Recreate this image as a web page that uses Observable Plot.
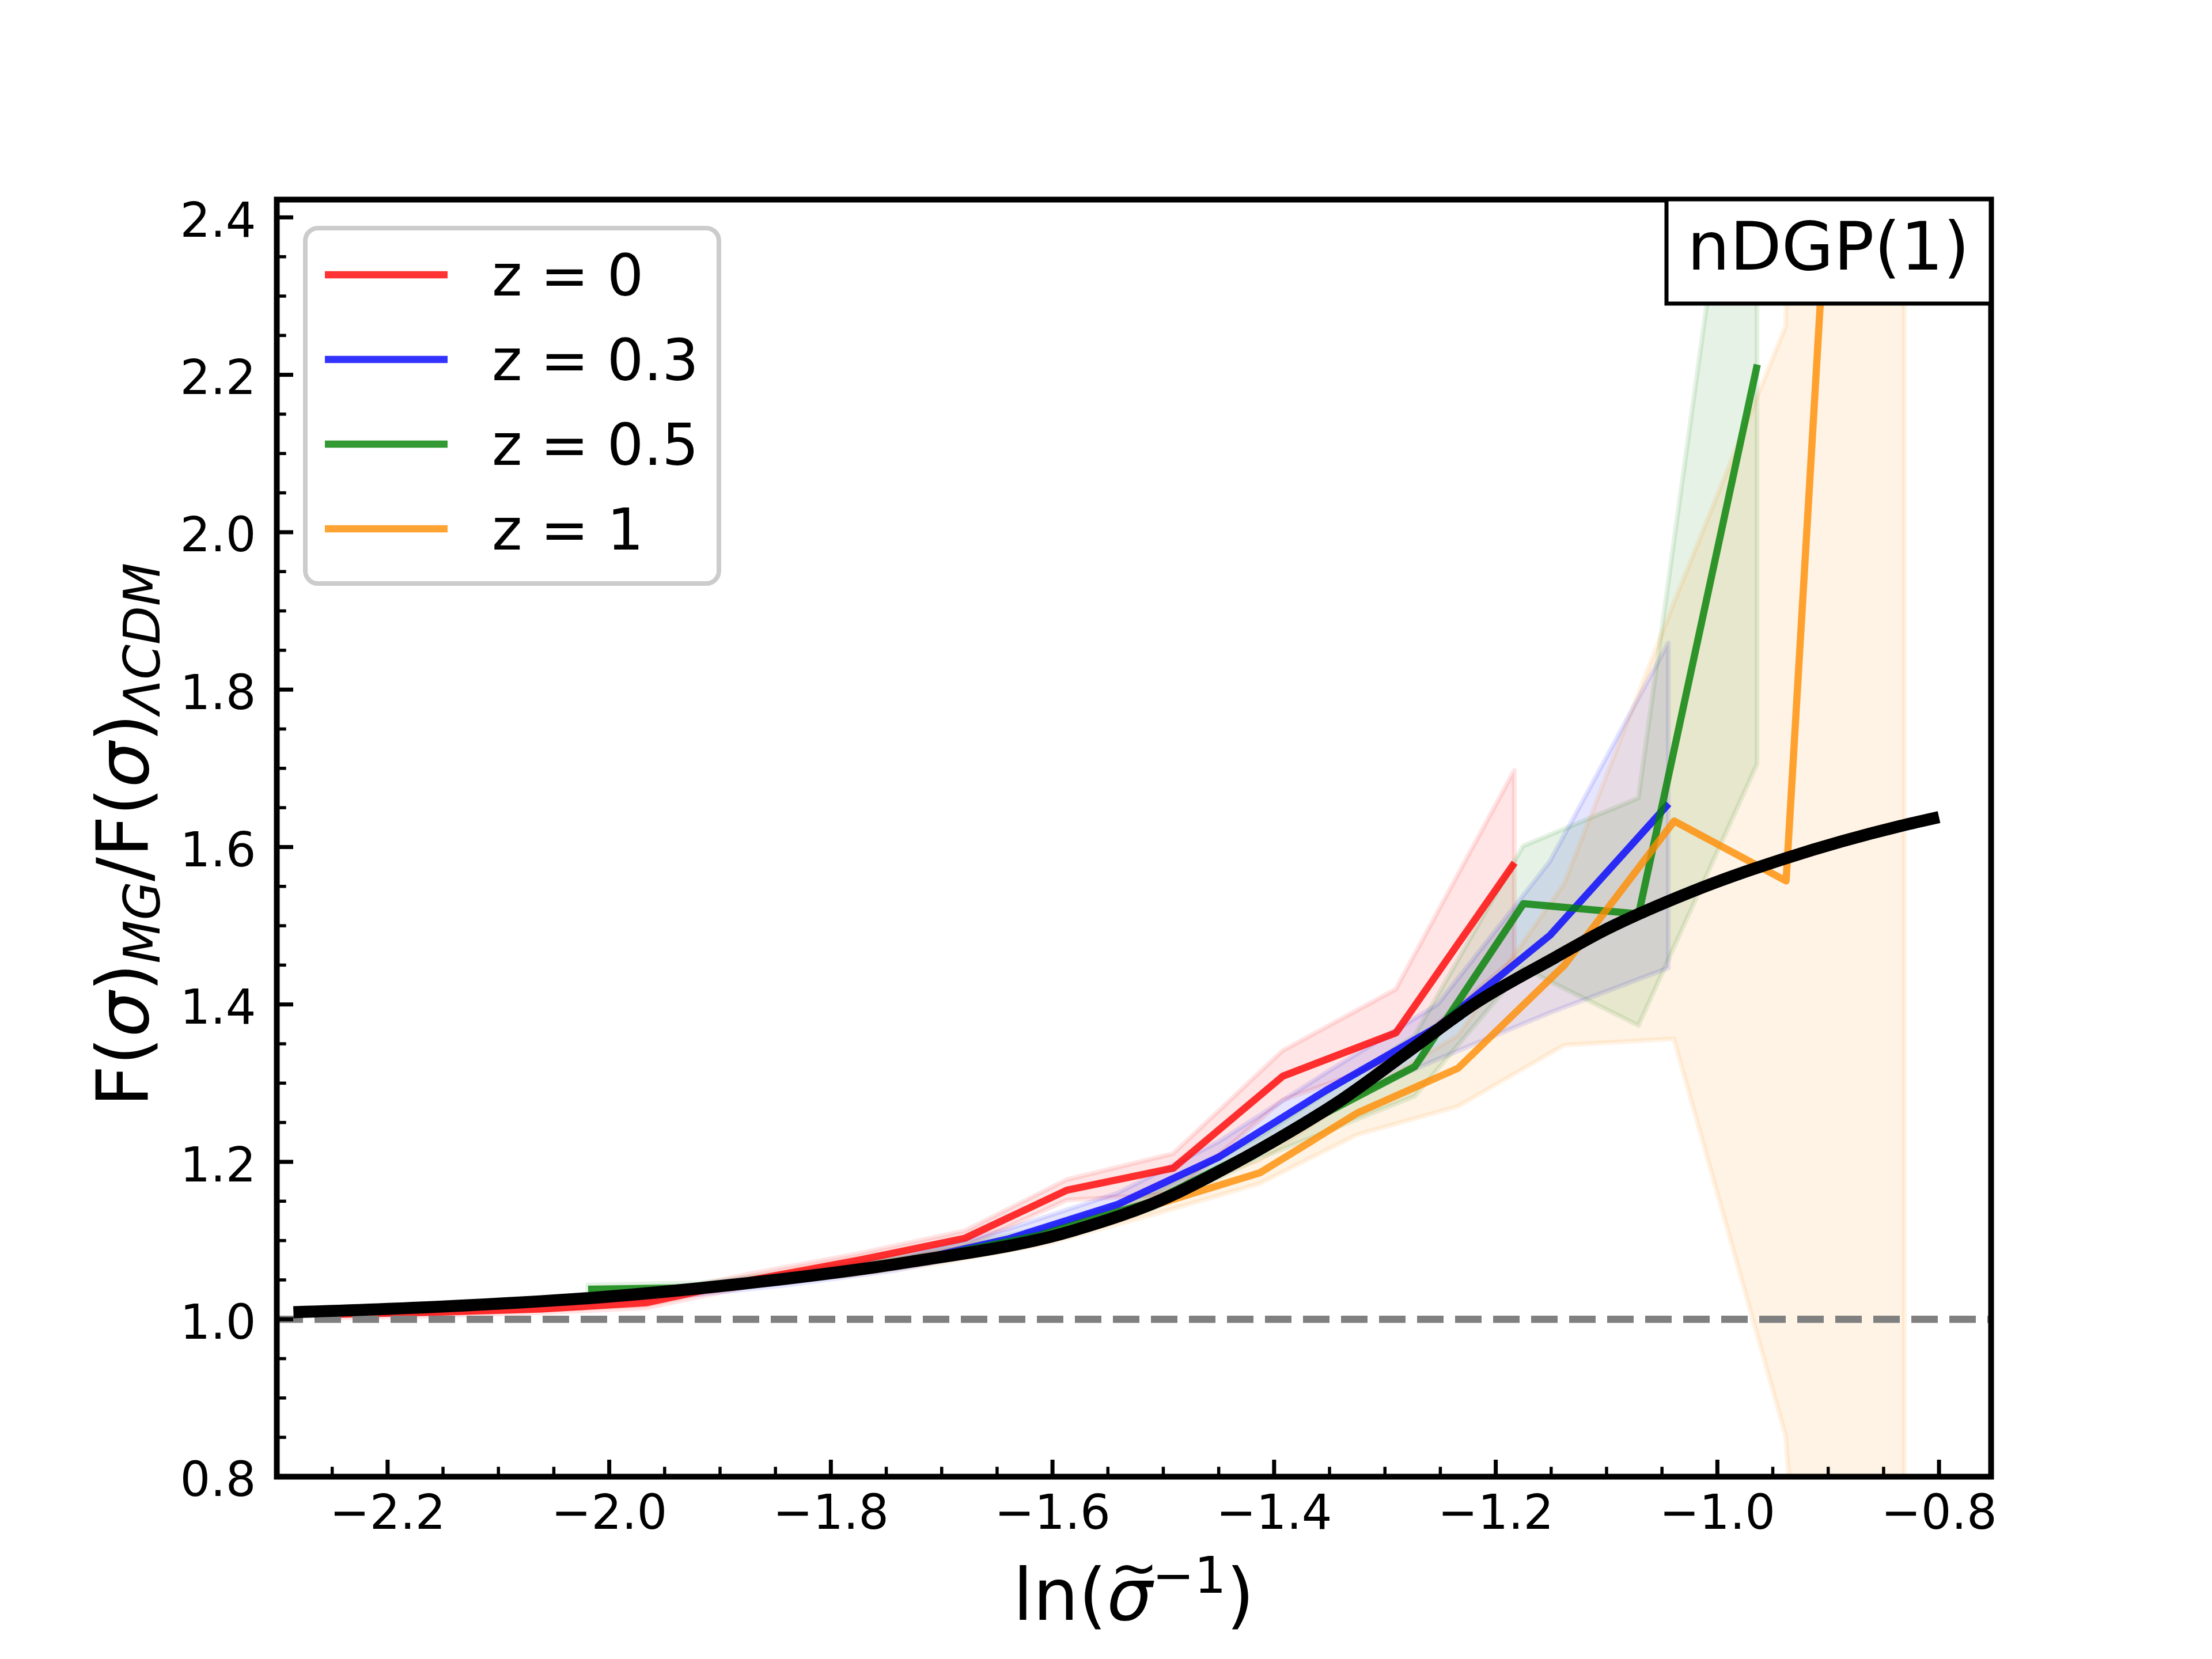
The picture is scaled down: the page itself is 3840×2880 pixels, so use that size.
<!DOCTYPE html>
<html><head><meta charset="utf-8">
<script src="https://cdn.jsdelivr.net/npm/d3@7"></script>
<script src="https://cdn.jsdelivr.net/npm/@observablehq/plot@0.6"></script>
<style>body{margin:0;background:#fff;} svg{display:block;}</style>
</head><body><div id="chart"></div>
<script>
// ---- data ----
const xTicks = [-2.2, -2.0, -1.8, -1.6, -1.4, -1.2, -1.0, -0.8];
const yTicks = [0.8, 1.0, 1.2, 1.4, 1.6, 1.8, 2.0, 2.2, 2.4];
const seriesLabels = ["z = 0", "z = 0.3", "z = 0.5", "z = 1"];
const seriesColors = ["#ff0000", "#0000ff", "#008000", "#ff8c00"];

const red_x  = [-2.255,-2.159,-2.063,-1.967,-1.871,-1.775,-1.679,-1.587,-1.491,-1.392,-1.290,-1.183];
const red_y  = [1.006,1.009,1.013,1.021,1.050,1.075,1.103,1.164,1.192,1.309,1.364,1.580];
const red_lo = [1.001,1.004,1.008,1.014,1.042,1.066,1.092,1.151,1.159,1.278,1.330,1.458];
const red_hi = [1.011,1.014,1.019,1.029,1.058,1.083,1.112,1.177,1.210,1.341,1.419,1.697];

const blue_x  = [-2.040,-1.940,-1.840,-1.740,-1.640,-1.541,-1.450,-1.354,-1.252,-1.151,-1.044];
const blue_y  = [1.024,1.034,1.050,1.070,1.102,1.146,1.206,1.290,1.372,1.488,1.655];
const blue_lo = [1.019,1.028,1.043,1.062,1.090,1.132,1.190,1.268,1.330,1.389,1.446];
const blue_hi = [1.029,1.040,1.057,1.078,1.114,1.160,1.225,1.312,1.400,1.581,1.859];

const green_x  = [-2.019,-1.917,-1.815,-1.713,-1.611,-1.509,-1.413,-1.273,-1.175,-1.071,-0.964];
const green_y  = [1.038,1.040,1.057,1.078,1.107,1.150,1.218,1.321,1.528,1.515,2.213];
const green_lo = [1.033,1.035,1.051,1.071,1.099,1.140,1.204,1.283,1.446,1.373,1.705];
const green_hi = [1.043,1.046,1.063,1.085,1.115,1.160,1.232,1.360,1.601,1.662,2.750];

const orange_x  = [-1.795,-1.700,-1.604,-1.508,-1.413,-1.325,-1.234,-1.138,-1.039,-0.938,-0.831];
const orange_y  = [1.058,1.078,1.105,1.145,1.186,1.262,1.319,1.450,1.633,1.557,4.100];
const orange_lo = [1.053,1.071,1.096,1.133,1.172,1.234,1.270,1.348,1.356,0.851,-1.200];
const orange_hi = [1.063,1.085,1.114,1.157,1.202,1.285,1.360,1.553,1.910,2.262,20.0];

const fit_x = [-2.285,-2.153,-2.008,-1.862,-1.728,-1.583,-1.490,-1.4575,-1.398,-1.338,-1.279,-1.219,-1.146,-1.105,-1.022,-0.940,-0.834,-0.800];
const fit_y = [1.009,1.016,1.028,1.048,1.073,1.112,1.159,1.182,1.228,1.280,1.340,1.401,1.460,1.492,1.544,1.585,1.627,1.638];

// ---- build tables ----
function rows(xs, ys, lo, hi) { return xs.map((x, i) => ({x, y: ys[i], lo: lo[i], hi: hi[i]})); }
const series = [
  rows(red_x, red_y, red_lo, red_hi),
  rows(blue_x, blue_y, blue_lo, blue_hi),
  rows(green_x, green_y, green_lo, green_hi),
  rows(orange_x, orange_y, orange_lo, orange_hi)
];
const fit = fit_x.map((x, i) => ({x, y: fit_y[i]}));

const isMajor = (v, step) => Math.abs(v / step - Math.round(v / step)) < 0.01;
const xMinor = d3.range(-2.25, -0.76, 0.05).filter(v => !isMajor(v, 0.2));
const yMinor = d3.range(0.85, 2.42, 0.05).filter(v => !isMajor(v, 0.2));

const W = 3840, H = 2880, mL = 480, mR = 384, mT = 346, mB = 317;
const innerW = W - mL - mR, innerH = H - mT - mB;

const bandMarks = series.map((d, i) => Plot.areaY(d, {
  x: "x", y1: "lo", y2: "hi", fill: seriesColors[i], fillOpacity: 0.1,
  stroke: seriesColors[i], strokeOpacity: 0.1, strokeWidth: 8.3, clip: true
}));
const lineMarks = series.map((d, i) => Plot.line(d, {
  x: "x", y: "y", stroke: seriesColors[i], strokeOpacity: 0.8, strokeWidth: 12.5,
  strokeLinejoin: "round", strokeLinecap: "butt", clip: true
}));

const fmt = d3.format(".1f");
const svg = Plot.plot({
  width: W, height: H,
  marginLeft: mL, marginRight: mR, marginTop: mT, marginBottom: mB,
  style: {fontFamily: "DejaVu Sans", background: "white", color: "black"},
  x: {domain: [-2.3, -0.753], label: null},
  y: {domain: [0.8, 2.4226], label: null},
  marks: [
    ...bandMarks,
    ...lineMarks,
    Plot.ruleY([1.0], {stroke: "#808080", strokeWidth: 12.5, strokeDasharray: "46,20"}),
    Plot.line(fit, {x: "x", y: "y", stroke: "black", strokeWidth: 21, curve: "monotone-x", strokeLinecap: "butt", clip: true}),
    Plot.ruleX(xTicks, {x: d => d, insetTop: innerH - 29, stroke: "black", strokeWidth: 7}),
    Plot.ruleX(xMinor, {x: d => d, insetTop: innerH - 16.7, stroke: "black", strokeWidth: 5.5}),
    Plot.ruleY(yTicks, {y: d => d, insetRight: innerW - 29, stroke: "black", strokeWidth: 7}),
    Plot.ruleY(yMinor, {y: d => d, insetRight: innerW - 16.7, stroke: "black", strokeWidth: 5.5}),
    Plot.axisX({ticks: xTicks, tickSize: 0, tickPadding: 32, tickFormat: fmt, fontSize: 83, label: null, fill: "black"}),
    Plot.axisY({ticks: yTicks, tickSize: 0, tickPadding: 36, tickFormat: fmt, fontSize: 83, label: null, fill: "black", dy: 7}),
    Plot.frame({stroke: "black", strokeWidth: 10})
  ]
});
document.getElementById("chart").append(svg);

const g = d3.select(svg).append("g").attr("font-family", "DejaVu Sans").attr("fill", "black");

// legend
const lg = g.append("g");
lg.append("rect").attr("x", 530).attr("y", 396).attr("width", 718).attr("height", 617)
  .attr("rx", 22).attr("fill", "white").attr("fill-opacity", 0.8)
  .attr("stroke", "#cccccc").attr("stroke-width", 8);
seriesLabels.forEach((lab, i) => {
  const yy = 477 + i * 147;
  lg.append("line").attr("x1", 564).attr("x2", 777).attr("y1", yy).attr("y2", yy)
    .attr("stroke", seriesColors[i]).attr("stroke-opacity", 0.8).attr("stroke-width", 12.5);
  lg.append("text").attr("x", 854).attr("y", yy + 36).attr("text-anchor", "start")
    .attr("font-size", 100).text(lab);
});

// model label box
g.append("rect").attr("x", 2893).attr("y", 346).attr("width", 563).attr("height", 181)
  .attr("fill", "white").attr("stroke", "black").attr("stroke-width", 7);
g.append("text").attr("x", 3174).attr("y", 468).attr("text-anchor", "middle")
  .attr("font-size", 116.7).text("nDGP(1)");

// y label
const yl = g.append("text").attr("transform", "translate(257,1449) rotate(-90)")
  .attr("text-anchor", "middle").attr("font-size", 125);
yl.append("tspan").text("F(");
yl.append("tspan").attr("font-style", "italic").text("σ");
yl.append("tspan").text(")");
yl.append("tspan").attr("font-style", "italic").attr("font-size", 87).attr("dy", 20).text("MG");
yl.append("tspan").attr("dy", -20).text("/F(");
yl.append("tspan").attr("font-style", "italic").text("σ");
yl.append("tspan").text(")");
yl.append("tspan").attr("font-style", "italic").attr("font-size", 87).attr("dy", 20).text("ΛCDM");

// x label: ln( sigma-with-wide-tilde ^-1 ), one text element
const sigW = 0.635 * 125, tilW = 0.838 * 100;
const tilStart = -sigW / 2 + 8 - tilW / 2;
const xl = g.append("text").attr("x", 1968).attr("y", 2812)
  .attr("text-anchor", "middle").attr("font-size", 125);
xl.append("tspan").text("ln(");
xl.append("tspan").attr("font-style", "italic").text("σ");
xl.append("tspan").attr("font-size", 100).attr("dx", tilStart).attr("dy", -56).text("~");
xl.append("tspan").attr("font-size", 87).attr("dx", -(tilStart + tilW)).attr("dy", 9).text("\u22121");
xl.append("tspan").attr("dy", 47).text(")");
</script></body></html>
